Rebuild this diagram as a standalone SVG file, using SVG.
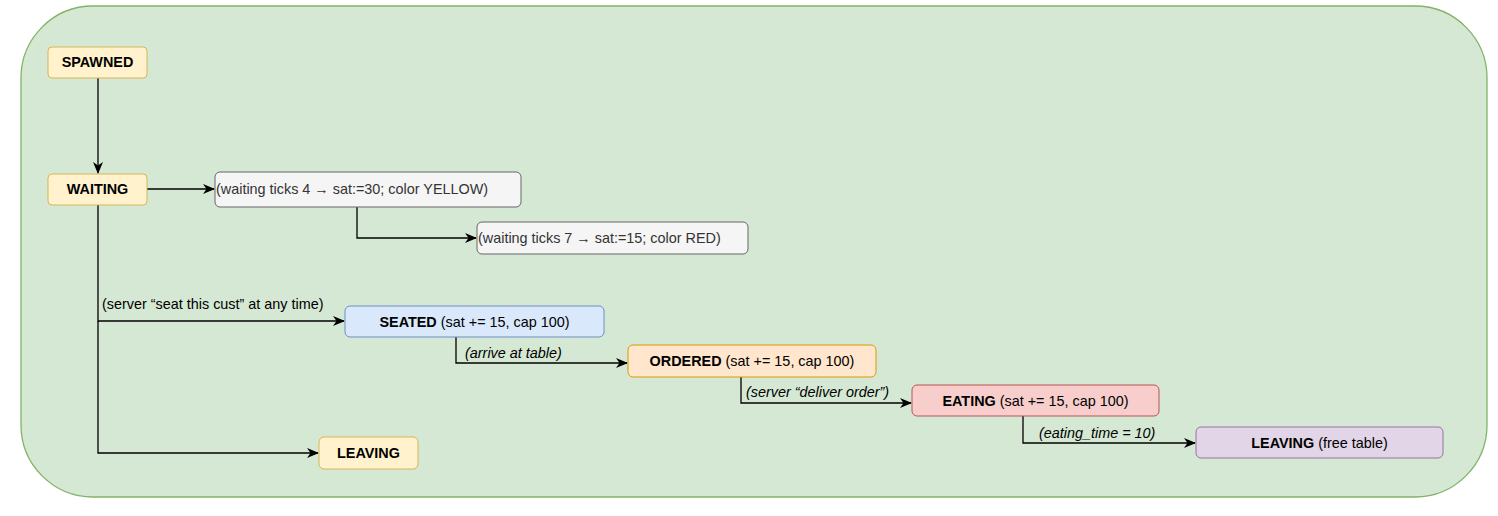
<svg xmlns="http://www.w3.org/2000/svg" width="1498" height="516" viewBox="0 0 1498 516">
<style>
text{font-family:"Liberation Sans",Arial,sans-serif;font-size:14.4px;fill:#000}
.b{font-weight:bold}
.i{font-style:italic}
.c{text-anchor:middle}
.y{fill:#fff2cc;stroke:#d6b656}
.n{fill:#f5f5f5;stroke:#666666}
.nt{fill:#333333}
.edge{fill:none;stroke:#000;stroke-width:1.3}
</style>
<defs>
<marker id="ah" viewBox="0 0 12 10" refX="11" refY="5" markerWidth="12" markerHeight="10" markerUnits="userSpaceOnUse" orient="auto">
<path d="M0,0 L12,5 L0,10 L3.5,5 Z" fill="#000"/>
</marker>
</defs>
<rect x="21" y="6" width="1466" height="491" rx="72" fill="#d5e8d4" stroke="#82b366" stroke-width="1.3"/>
<g id="connectors">
<path class="edge" d="M98,78 V173" marker-end="url(#ah)"/>
<path class="edge" d="M147,189 H214" marker-end="url(#ah)"/>
<path class="edge" d="M357,207 V238 H476" marker-end="url(#ah)"/>
<path class="edge" d="M98,205 V321 H344" marker-end="url(#ah)"/>
<path class="edge" d="M98,321 V453 H318" marker-end="url(#ah)"/>
<path class="edge" d="M456,337 V363 H627" marker-end="url(#ah)"/>
<path class="edge" d="M741,377 V403 H911" marker-end="url(#ah)"/>
<path class="edge" d="M1023,416 V443 H1195" marker-end="url(#ah)"/>
<text x="102" y="309">(server “seat this cust” at any time)</text>
<text class="i" x="465" y="358">(arrive at table)</text>
<text class="i" x="746" y="397">(server “deliver order”)</text>
<text class="i" x="1039" y="438">(eating_time = 10)</text>
</g>
<g id="spawned"><rect class="y" x="48" y="47" width="99" height="31" rx="4"/><text class="b c" x="97.5" y="66.5">SPAWNED</text></g>
<g id="waiting"><rect class="y" x="48" y="174" width="99" height="31" rx="4"/><text class="b c" x="97.5" y="194">WAITING</text></g>
<g id="note1"><rect class="n" x="215" y="172" width="306" height="35" rx="5"/><text class="nt" x="216" y="194">(waiting ticks 4 → sat:=30; color YELLOW)</text></g>
<g id="note2"><rect class="n" x="477" y="222" width="271" height="32" rx="5"/><text class="nt" x="478" y="243">(waiting ticks 7 → sat:=15; color RED)</text></g>
<g id="seated"><rect x="345" y="306" width="259" height="31" rx="5" fill="#dae8fc" stroke="#6c8ebf"/><text class="c" x="474.5" y="326.5"><tspan class="b">SEATED</tspan> (sat += 15, cap 100)</text></g>
<g id="ordered"><rect x="628" y="345" width="248" height="32" rx="5" fill="#ffe6cc" stroke="#d79b00"/><text class="c" x="752" y="366"><tspan class="b">ORDERED</tspan> (sat += 15, cap 100)</text></g>
<g id="eating"><rect x="912" y="385" width="247" height="31" rx="5" fill="#f8cecc" stroke="#b85450"/><text class="c" x="1035.5" y="405.5"><tspan class="b">EATING</tspan> (sat += 15, cap 100)</text></g>
<g id="leaving2"><rect x="1196" y="427" width="247" height="31" rx="5" fill="#e1d5e7" stroke="#9673a6"/><text class="c" x="1319.5" y="447.5"><tspan class="b">LEAVING</tspan> (free table)</text></g>
<g id="leaving1"><rect class="y" x="319" y="437" width="99" height="32" rx="5"/><text class="b c" x="368.5" y="458">LEAVING</text></g>
</svg>
